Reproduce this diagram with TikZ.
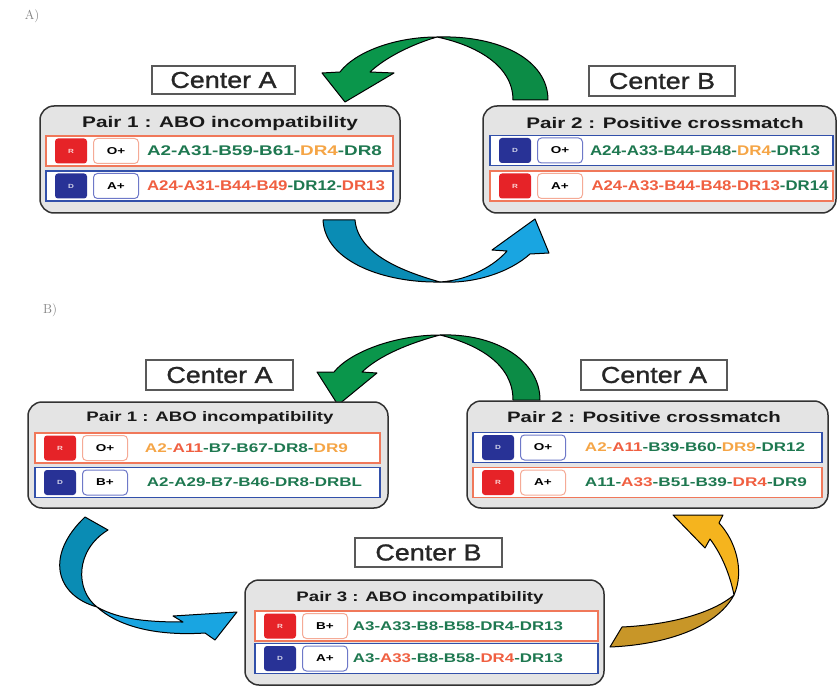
\documentclass[tikz,border=0pt]{standalone}
\usepackage{fontspec}
\usepackage{graphicx}
\newfontfamily\bwfont[FakeStretch=1.35]{Liberation Sans Bold}
\newfontfamily\hlfont{Liberation Sans Bold}
\newfontfamily\cwfont[FakeStretch=1.17,FakeBold=1.2]{Liberation Sans}
\definecolor{hlagreen}{RGB}{30,120,80}
\definecolor{hlaorange}{RGB}{245,165,70}
\definecolor{hlared}{RGB}{240,95,65}
\definecolor{redrow}{RGB}{240,120,90}
\definecolor{bluerow}{RGB}{50,80,170}
\definecolor{redsq}{RGB}{230,35,40}
\definecolor{bluesq}{RGB}{40,50,150}
\definecolor{redtb}{RGB}{245,170,150}
\definecolor{bluetb}{RGB}{110,120,200}
\definecolor{pairfill}{RGB}{228,228,228}
\definecolor{pairline}{RGB}{50,50,50}
\definecolor{arrgreen}{RGB}{10,150,75}
\definecolor{arrgreenb}{RGB}{12,140,70}
\definecolor{blued}{RGB}{10,140,180}
\definecolor{bluel}{RGB}{25,165,225}
\definecolor{yelld}{RGB}{200,150,40}
\definecolor{yelll}{RGB}{245,180,30}
\newcommand\hlg[1]{\textcolor{hlagreen}{#1}}
\newcommand\hlo[1]{\textcolor{hlaorange}{#1}}
\newcommand\hlr[1]{\textcolor{hlared}{#1}}
\def\redletter{R}
\def\blueletter{D}
\def\hlasz{14}
\tikzset{
  pairbox/.style={rectangle, rounded corners=14, fill=pairfill, draw=pairline, line width=1.5, inner sep=0},
  centerlbl/.style={rectangle, fill=white, draw=black!65, line width=1.8, inner sep=0, text=black!85, font=\cwfont\fontsize{23}{25}\selectfont},
  titlelbl/.style={inner sep=0, text=black!90},
  rowbox/.style={rectangle, fill=white, line width=1.8, minimum height=30, inner sep=0},
  sqbox/.style={rectangle, rounded corners=3, minimum width=32, minimum height=25, inner sep=0, font=\bwfont\fontsize{6}{7}\selectfont},
  tbox/.style={rectangle, rounded corners=4, fill=white, line width=1, minimum width=45, minimum height=25, inner sep=0, font=\bwfont\fontsize{10}{12}\selectfont},
  hla/.style={inner sep=0, font=\hlfont\fontsize{\hlasz}{\hlasz}\selectfont},
  panellbl/.style={inner sep=0, text=black!50, font=\fontsize{13}{15}\selectfont},
  ribbon/.style={draw=black, line width=1, line join=round}
}
% name, xL, xR, yc, kind, blood, text center x, text width, text
\newcommand\prow[9]{%
  \node[rowbox, draw=#5row, minimum width={#3-#2}] (#1) at ({(#2+#3)/2},#4) {};
  \node[sqbox, fill=#5sq, text=white!80!#5sq] (#1-k) at ({#2+25},#4) {\csname #5letter\endcsname};
  \node[tbox, draw=#5tb] (#1-b) at ({#2+70},#4) {#6};
  \node[hla] (#1-t) at (#7,#4) {\resizebox{#8pt}{\height}{#9}};
}
\begin{document}
\begin{tikzpicture}[x=1pt,y=-1pt]
\useasboundingbox (0,0) rectangle (838,687);
\fill[white] (0,0) rectangle (838,687);

% panel labels
\node[panellbl] (labA) at (32,16) {A)};
\node[panellbl] (labB) at (50,310) {B)};

% ---------------- Panel A ----------------
\fill[arrgreenb, ribbon] (548,100) .. controls (548,60) and (500,35) .. (437,37)
   .. controls (475,45) and (513,65) .. (513,100) -- cycle;
\fill[arrgreen, ribbon] (437,37) .. controls (395,37) and (355,52) .. (340,72)
   -- (322,73) -- (345,102) -- (394,73) -- (370,72)
   .. controls (385,58) and (410,45) .. (437,37) -- cycle;
\fill[blued, ribbon] (323,220) .. controls (325,262) and (385,283) .. (440,282)
   .. controls (405,272) and (358,255) .. (355,220) -- cycle;
\fill[bluel, ribbon] (440,282) .. controls (470,280) and (495,265) .. (507,251)
   -- (492,250) -- (535,219) -- (549,253) -- (530,254)
   .. controls (510,272) and (475,284) .. (440,282) -- cycle;

\node[centerlbl, minimum width=143, minimum height=28] (cA1) at (223.5,80) {Center A};
\node[centerlbl, minimum width=146, minimum height=30] (cB1) at (662,81) {Center B};

\node[pairbox, minimum width=360, minimum height=107] (pA1) at (220,159.5) {};
\node[titlelbl, font=\bwfont\fontsize{15.4}{17}\selectfont] (tA1) at (220,124) {Pair 1 : ABO incompatibility};
\prow{a1r}{46}{393}{151}{red}{O+}{264.5}{235}{\hlg{A2-A31-B59-B61-}\hlo{DR4}\hlg{-DR8}}
\prow{a1d}{46}{393}{186}{blue}{A+}{266}{238}{\hlr{A24-A31-B44-B49}\hlg{-DR12-}\hlr{DR13}}

\node[pairbox, minimum width=353, minimum height=107] (pA2) at (659.5,159.5) {};
\node[titlelbl, font=\bwfont\fontsize{15.3}{17}\selectfont] (tA2) at (665,123) {Pair 2 : Positive crossmatch};
\prow{a2d}{490}{833}{150.5}{blue}{O+}{705}{230}{\hlg{A24-A33-B44-B48-}\hlo{DR4}\hlg{-DR13}}
\prow{a2r}{490}{833}{186}{red}{A+}{710}{237}{\hlr{A24-A33-B44-B48-DR13}\hlg{-DR14}}

% ---------------- Panel B ----------------
\def\hlasz{12.6}
\fill[arrgreenb, ribbon] (540,400) .. controls (540,360) and (495,333) .. (440,335)
   .. controls (480,345) and (513,365) .. (513,400) -- cycle;
\fill[arrgreen, ribbon] (440,335) .. controls (395,335) and (350,352) .. (334,372)
   -- (317,372) -- (338,405) -- (377,373) -- (362,372)
   .. controls (380,355) and (410,343) .. (440,335) -- cycle;
\fill[blued, ribbon] (85,517) .. controls (45,555) and (55,595) .. (97,607)
   .. controls (75,590) and (75,550) .. (108,530) -- cycle;
\fill[bluel, ribbon] (97,607) .. controls (120,620) and (150,622) .. (183,622)
   -- (173,616) -- (237,612) -- (215,640) -- (205,633)
   .. controls (160,636) and (120,628) .. (97,607) -- cycle;
\fill[yelld, ribbon] (610,647) .. controls (660,645) and (715,630) .. (734,595)
   .. controls (710,615) and (665,625) .. (622,627) -- cycle;
\fill[yelll, ribbon] (734,595) .. controls (745,570) and (735,540) .. (719,523)
   -- (723,515) -- (673,515) -- (705,548) -- (710,539)
   .. controls (722,555) and (730,575) .. (734,595) -- cycle;

\node[centerlbl, minimum width=147, minimum height=30] (cA2) at (219.5,375) {Center A};
\node[centerlbl, minimum width=146, minimum height=30] (cA3) at (654,375) {Center A};
\node[centerlbl, minimum width=147, minimum height=29] (cB2) at (428.5,552.5) {Center B};

\node[pairbox, minimum width=360, minimum height=106] (pB1) at (208,455) {};
\node[titlelbl, font=\bwfont\fontsize{13.8}{15}\selectfont] (tB1) at (210,418) {Pair 1 : ABO incompatibility};
\prow{b1r}{35}{380}{448}{red}{O+}{246.5}{203}{\hlo{A2-}\hlr{A11}\hlg{-B7-B67-DR8-}\hlo{DR9}}
\prow{b1d}{35}{380}{482.5}{blue}{B+}{254.5}{215}{\hlg{A2-A29-B7-B46-DR8-DRBL}}

\node[pairbox, minimum width=361, minimum height=107] (pB2) at (647.5,454.5) {};
\node[titlelbl, font=\bwfont\fontsize{15.1}{17}\selectfont] (tB2) at (644,417) {Pair 2 : Positive crossmatch};
\prow{b2d}{473}{822}{447.5}{blue}{O+}{695}{220}{\hlo{A2-}\hlr{A11}\hlg{-B39-B60-}\hlo{DR9}\hlg{-DR12}}
\prow{b2r}{473}{822}{482.5}{red}{A+}{696}{222}{\hlg{A11-}\hlr{A33}\hlg{-B51-B39-}\hlr{DR4}\hlg{-DR9}}

\node[pairbox, minimum width=359, minimum height=105] (pB3) at (424.5,632.5) {};
\node[titlelbl, font=\bwfont\fontsize{13.8}{15}\selectfont] (tB3) at (420,598) {Pair 3 : ABO incompatibility};
\prow{b3r}{255}{598}{626}{red}{B+}{458}{210}{\hlg{A3-A33-B8-B58-DR4-DR13}}
\prow{b3d}{255}{598}{658.5}{blue}{A+}{458}{210}{\hlg{A3-}\hlr{A33}\hlg{-B8-B58-}\hlr{DR4}\hlg{-DR13}}
\end{tikzpicture}
\end{document}
